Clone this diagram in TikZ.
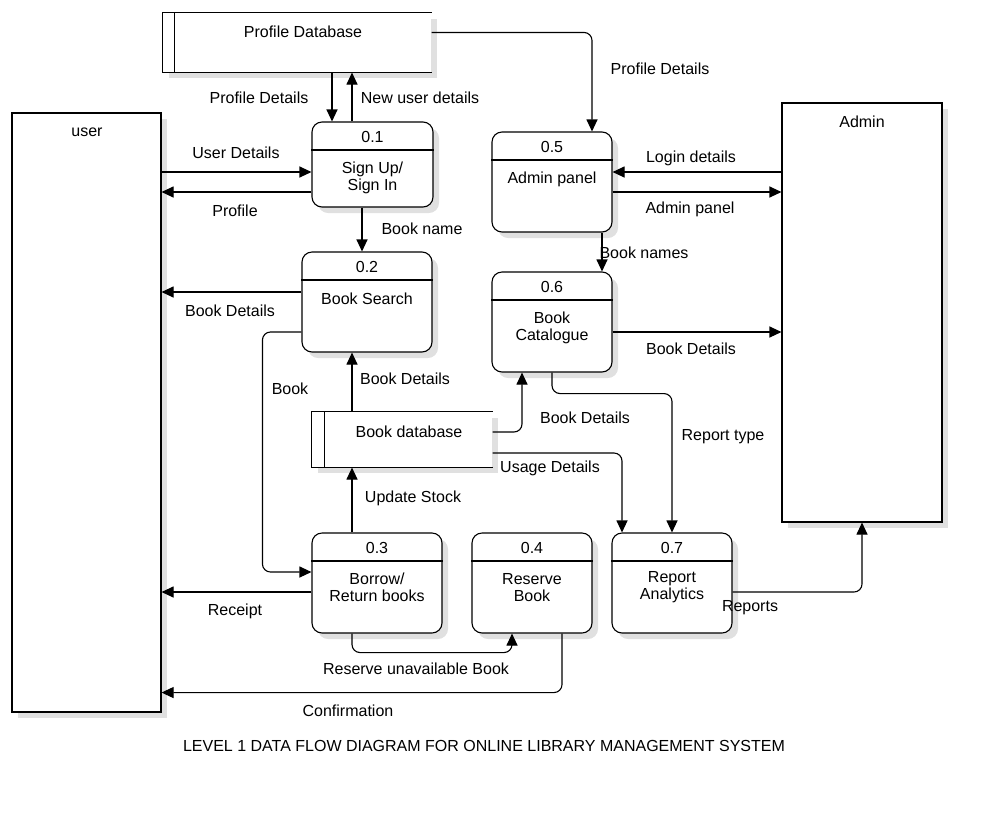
\documentclass[tikz,border=0pt]{standalone}
\usepackage{fontspec}
\setmainfont{Liberation Sans}
\usepackage{tikz}
\usetikzlibrary{arrows.meta,positioning,shadows}
\tikzset{>={Triangle[length=12pt,width=11pt]}}

\begin{document}
\begin{tikzpicture}[x=1pt,y=-1pt,line width=1.1pt,
    font=\fontsize{16}{17}\selectfont,
    shadowed/.style={drop shadow={shadow xshift=6pt,shadow yshift=-6pt,fill=black!12,opacity=1}},
    proc/.style={draw,fill=white,rounded corners=10pt,inner sep=0pt,shadowed},
    entity/.style={draw,fill=white,inner sep=0pt,shadowed},
    store/.style={fill=white,inner sep=0pt,shadowed},
    txt/.style={align=center,inner sep=0pt},
    lbl/.style={inner sep=0pt},
    flow/.style={->,rounded corners=8pt}]
    \useasboundingbox (0,0) rectangle (992,828);

    % external entities
    \node[entity,minimum width=149pt,minimum height=599pt] at (86.5,412.5) (user) {};
    \node[txt] at (87,132) (usert) {user};
    \node[entity,minimum width=160pt,minimum height=419pt] at (862,312.5) (admin) {};
    \node[txt] at (862,122) (admint) {Admin};

    % data stores
    \node[store,minimum width=268pt,minimum height=59pt] at (297,42.5) (pdb) {};
    \draw (pdb.north east) -- (pdb.north west) -- (pdb.south west) -- (pdb.south east);
    \draw ([xshift=12pt]pdb.north west) -- ([xshift=12pt]pdb.south west);
    \node[txt] at (303,32) (pdbt) {Profile Database};
    \node[store,minimum width=180pt,minimum height=55pt] at (402,439.5) (bdb) {};
    \draw (bdb.north east) -- (bdb.north west) -- (bdb.south west) -- (bdb.south east);
    \draw ([xshift=13pt]bdb.north west) -- ([xshift=13pt]bdb.south west);
    \node[txt] at (409,432) (bdbt) {Book database};

    % processes
    \node[proc,minimum width=121pt,minimum height=85pt] at (372.5,164.5) (p01) {};
    \node[proc,minimum width=130pt,minimum height=100pt] at (367,302) (p02) {};
    \node[proc,minimum width=130pt,minimum height=100pt] at (377,583) (p03) {};
    \node[proc,minimum width=120pt,minimum height=100pt] at (532,583) (p04) {};
    \node[proc,minimum width=120pt,minimum height=100pt] at (552,182) (p05) {};
    \node[proc,minimum width=120pt,minimum height=100pt] at (552,322) (p06) {};
    \node[proc,minimum width=120pt,minimum height=100pt] at (672,583) (p07) {};
    \foreach \p in {p01,p02,p03,p04,p05,p06,p07}
        \draw ([yshift=-28.5pt]\p.north west) -- ([yshift=-28.5pt]\p.north east);

    \node[txt] at (372.5,136.5) (t01) {0.1};
    \node[txt] at (367,266.5) (t02) {0.2};
    \node[txt] at (377,547.5) (t03) {0.3};
    \node[txt] at (532,547.5) (t04) {0.4};
    \node[txt] at (552,146.5) (t05) {0.5};
    \node[txt] at (552,286.5) (t06) {0.6};
    \node[txt] at (672,547.5) (t07) {0.7};
    \node[txt] at (372.5,177.5) (x01) {Sign Up/\\Sign In};
    \node[txt] at (367,299) (x02) {Book Search};
    \node[txt] at (377,587.5) (x03) {Borrow/\\Return books};
    \node[txt] at (532,587.5) (x04) {Reserve\\Book};
    \node[txt] at (552,179) (x05) {Admin panel};
    \node[txt] at (552,327.5) (x06) {Book\\Catalogue};
    \node[txt] at (672,587.5) (x07) {Report\\Analytics};

    % data flows
    \draw[flow] ([xshift=-40.5pt]p01.north |- pdb.south) -- ([xshift=-40.5pt]p01.north);
    \draw[flow] ([xshift=-20.5pt]p01.north) -- ([xshift=-20.5pt]p01.north |- pdb.south);
    \draw[flow] ([yshift=-20pt]pdb.north east) -| ([xshift=40pt]p05.north);
    \draw[flow] ([yshift=-7.5pt]user.east |- p01.west) -- ([yshift=-7.5pt]p01.west);
    \draw[flow] ([yshift=-27.5pt]p01.west) -- ([yshift=-27.5pt]user.east |- p01.west);
    \draw[flow] ([xshift=-10.5pt]p01.south) -- ([xshift=-10.5pt]p01.south |- p02.north);
    \draw[flow] ([yshift=10pt]p02.west) -- ([yshift=10pt]user.east |- p02.west);
    \draw[flow] ([xshift=-15pt]p02.south |- bdb.north) -- ([xshift=-15pt]p02.south);
    \draw[flow] ([yshift=7.5pt]bdb.east) -| ([xshift=-30pt]p06.south);
    \draw[flow] ([yshift=-30pt]p02.west) -| ([xshift=-49pt,yshift=11pt]p03.west) -- ([yshift=11pt]p03.west);
    \draw[flow] ([xshift=-25pt]p03.north) -- ([xshift=-25pt]p03.north |- bdb.south);
    \draw[flow] ([yshift=-9pt]p03.west) -- ([yshift=-9pt]user.east |- p03.west);
    \draw[flow] ([xshift=-25pt]p03.south) -- ++(0,19) -| ([xshift=-20pt]p04.south);
    \draw[flow] ([xshift=30pt]p04.south) |- ([yshift=20pt]user.south east);
    \draw[flow] ([yshift=-13.5pt]bdb.east) -| ([xshift=-50pt]p07.north);
    \draw[flow] (p06.south) -- ++(0,21) -| (p07.north);
    \draw[flow] ([yshift=10pt]admin.west |- p05.east) -- ([yshift=10pt]p05.east);
    \draw[flow] ([yshift=-10pt]p05.east) -- ([yshift=-10pt]admin.west |- p05.east);
    \draw[flow] ([xshift=50pt]p05.south) -- ([xshift=50pt]p06.north);
    \draw[flow] ([yshift=-10pt]p06.east) -- ([yshift=-10pt]admin.west |- p06.east);
    \draw[flow] ([yshift=-9pt]p07.east) -| (admin.south);

    % flow labels
    \node[lbl] at (259,98) (l01) {Profile Details};
    \node[lbl] at (420,98) (l02) {New user details};
    \node[lbl] at (660,69) (l03) {Profile Details};
    \node[lbl] at (236,153) (l04) {User Details};
    \node[lbl] at (235,211) (l05) {Profile};
    \node[lbl] at (422,229) (l06) {Book name};
    \node[lbl] at (230,311) (l07) {Book Details};
    \node[lbl] at (405,379) (l08) {Book Details};
    \node[lbl] at (585,418) (l09) {Book Details};
    \node[lbl] at (290,389) (l10) {Book};
    \node[lbl] at (413,498) (l11) {Update Stock};
    \node[lbl] at (235,611) (l12) {Receipt};
    \node[lbl] at (416,669) (l13) {Reserve unavailable Book};
    \node[lbl] at (348,711) (l14) {Confirmation};
    \node[lbl] at (550,468) (l15) {Usage Details};
    \node[lbl] at (723,437) (l16) {Report type};
    \node[lbl] at (691,158) (l17) {Login details};
    \node[lbl] at (690,209) (l18) {Admin panel};
    \node[lbl] at (644,253) (l19) {Book names};
    \node[lbl] at (691,349) (l20) {Book Details};
    \node[lbl] at (750,608) (l21) {Reports};

    \node[lbl] at (484,746) (caption) {LEVEL 1 DATA FLOW DIAGRAM FOR ONLINE LIBRARY MANAGEMENT SYSTEM};
\end{tikzpicture}
\end{document}
